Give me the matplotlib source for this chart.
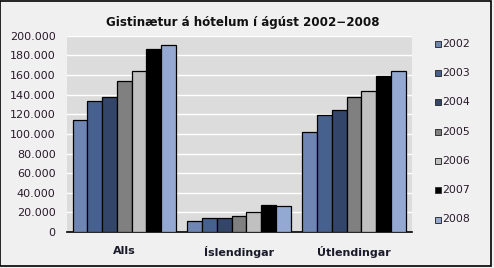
"""
Gistinætur á hótelum í ágúst 2002-2008, grouped bars
"""

import matplotlib
matplotlib.use('Agg')
import matplotlib.pyplot as plt
import matplotlib.patches as patches
import numpy as np

categories = ['Alls', 'Íslendingar', 'Útlendingar']
years = ['2002', '2003', '2004', '2005', '2006', '2007', '2008']

# values per year, in the order of categories
values = {
    '2002': [113700, 11300, 102400],
    '2003': [133000, 14000, 118800],
    '2004': [138000, 14000, 124000],
    '2005': [154300, 16400, 138000],
    '2006': [164500, 20500, 144000],
    '2007': [186000, 28000, 159000],
    '2008': [190500, 26600, 163500],
}
yticks = [0, 20000, 40000, 60000, 80000, 100000, 120000, 140000, 160000, 180000, 200000]
ytick_labels = ['0', '20.000', '40.000', '60.000', '80.000', '100.000', '120.000',
                '140.000', '160.000', '180.000', '200.000']

colors = ['#6f86b5', '#47618f', '#33466a', '#808080', '#c0c0c0', '#000000', '#94a9d2']

fig = plt.figure(figsize=(4.94, 2.68), dpi=100)
fig.patch.set_facecolor('#f0f0f0')
ax = fig.add_axes([0.135, 0.134, 0.698, 0.733])
ax.set_facecolor('#dcdcdc')

x = np.arange(len(categories))
group_w = 0.898
bw = group_w / len(years)
for i, yr in enumerate(years):
    ax.bar(x - group_w / 2 + bw * (i + 0.5), values[yr], width=bw, color=colors[i],
           edgecolor='black', linewidth=0.9, zorder=3, label=yr)

ax.set_xlim(-0.5, 2.5)
ax.set_ylim(0, 200000)
ax.set_yticks(yticks)
ax.set_yticklabels(ytick_labels, fontsize=8, color='#2a1a2a')
ax.set_xticks(x)
ax.set_xticklabels(categories, fontsize=8, fontweight='bold', color='#1a1a2a')
ax.tick_params(axis='y', length=0, pad=8)
ax.tick_params(axis='x', length=0, pad=10)
ax.yaxis.grid(True, color='white', linewidth=1.0, zorder=0)
ax.set_axisbelow(True)
for s in ['top', 'right', 'left']:
    ax.spines[s].set_visible(False)
ax.spines['bottom'].set_linewidth(1.2)

fig.text(0.492, 0.917, 'Gistinætur á hótelum í ágúst 2002\u22122008', ha='center', va='center',
         fontsize=8.6, fontweight='bold', color='#111111')

# legend drawn by hand, one row per year
for i, yr in enumerate(years):
    yc = 1 - (43.7 + 29.3 * i) / 268
    fig.patches.append(patches.Rectangle((435 / 494, yc - 3 / 268), 6 / 494, 6 / 268,
                                         transform=fig.transFigure, facecolor=colors[i],
                                         edgecolor='#333333', linewidth=0.7))
    fig.text(442 / 494, yc, yr, ha='left', va='center', fontsize=7.8, color='#2a1a2a')

fig.patches.append(patches.Rectangle((0.001, 0.008), 0.992, 0.99, transform=fig.transFigure,
                                     fill=False, edgecolor='black', linewidth=1.2))

plt.savefig('out.png', dpi=100, facecolor=fig.get_facecolor())
